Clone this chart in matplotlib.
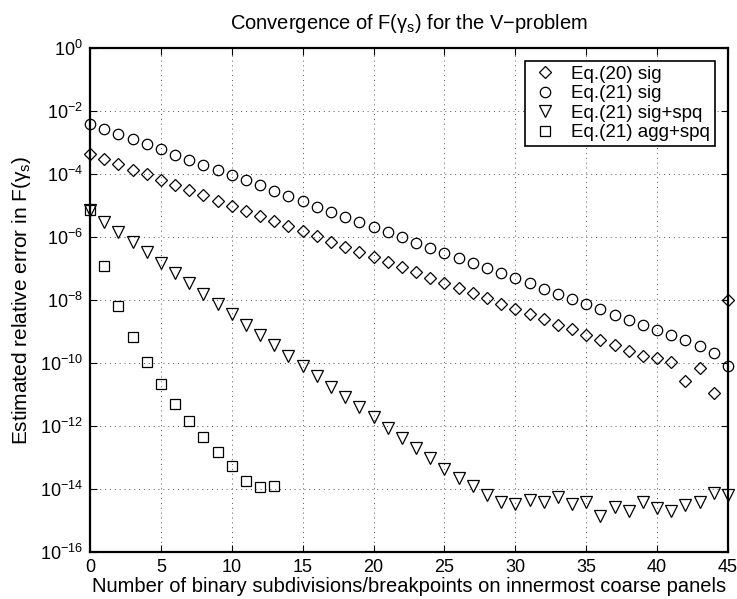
import numpy as np
import matplotlib
matplotlib.use("Agg")
import matplotlib.pyplot as plt
from matplotlib.ticker import FixedLocator, NullLocator

plt.rcParams['font.family'] = ['Liberation Sans', 'DejaVu Sans']
plt.rcParams['mathtext.fontset'] = 'custom'
plt.rcParams['mathtext.rm'] = 'Liberation Sans'
plt.rcParams['mathtext.it'] = 'Liberation Sans'
plt.rcParams['mathtext.default'] = 'regular'

# x positions: number of subdivisions
n_sig = list(range(0, 46))
n_agg = list(range(0, 14))

# log10 of estimated relative error
eq20_sig_log10 = [-3.37, -3.52, -3.69, -3.87, -4.01, -4.19, -4.35, -4.52, -4.68, -4.85,
                  -5.01, -5.17, -5.33, -5.49, -5.65, -5.81, -5.97, -6.16, -6.33, -6.48,
                  -6.65, -6.79, -6.96, -7.12, -7.29, -7.45, -7.62, -7.79, -7.95, -8.13,
                  -8.29, -8.44, -8.61, -8.78, -8.93, -9.10, -9.27, -9.43, -9.62, -9.78,
                  -9.85, -9.98, -10.57, -10.15, -10.96, -8.00]
eq21_sig_log10 = [-2.41, -2.57, -2.73, -2.89, -3.06, -3.22, -3.39, -3.55, -3.71, -3.87,
                  -4.04, -4.20, -4.35, -4.54, -4.70, -4.86, -5.04, -5.20, -5.35, -5.52,
                  -5.68, -5.85, -6.01, -6.18, -6.35, -6.50, -6.68, -6.84, -6.99, -7.15,
                  -7.31, -7.47, -7.65, -7.80, -7.97, -8.13, -8.30, -8.47, -8.63, -8.79,
                  -8.95, -9.11, -9.28, -9.46, -9.67, -10.08]
eq21_sigspq_log10 = [-5.14, -5.51, -5.85, -6.17, -6.49, -6.83, -7.15, -7.47, -7.80, -8.13,
                     -8.45, -8.78, -9.11, -9.43, -9.78, -10.10, -10.41, -10.75, -11.07, -11.40,
                     -11.71, -12.05, -12.39, -12.71, -13.03, -13.37, -13.66, -13.89, -14.19, -14.42,
                     -14.48, -14.36, -14.40, -14.26, -14.49, -14.42, -14.85, -14.58, -14.69, -14.40,
                     -14.59, -14.69, -14.52, -14.40, -14.14, -14.19]
eq21_aggspq_log10 = [-5.14, -6.91, -8.19, -9.16, -9.98, -10.67, -11.29, -11.84, -12.35, -12.84,
                     -13.27, -13.76, -13.95, -13.90]

labels = ['Eq.(20) sig', 'Eq.(21) sig', 'Eq.(21) sig+spq', 'Eq.(21) agg+spq']

fig = plt.figure(figsize=(7.37, 5.99), dpi=100)
ax = fig.add_axes([90/737, 47/599, 638/737, 504/599])

common = dict(linestyle='none', markerfacecolor='none', markeredgecolor='black',
              markeredgewidth=0.9, clip_on=False)
ax.plot(n_sig, 10.0**np.array(eq20_sig_log10), marker='D', markersize=6, label=labels[0], **common)
ax.plot(n_sig, 10.0**np.array(eq21_sig_log10), marker='o', markersize=7.5, label=labels[1], **common)
ax.plot(n_sig, 10.0**np.array(eq21_sigspq_log10), marker='v', markersize=8, label=labels[2], **common)
ax.plot(n_agg, 10.0**np.array(eq21_aggspq_log10), marker='s', markersize=6.5, label=labels[3], **common)

ax.set_yscale('log')
ax.set_xlim(0, 45)
ax.set_ylim(1e-16, 1e0)
ax.xaxis.set_major_locator(FixedLocator(list(range(0, 46, 5))))
ax.yaxis.set_major_locator(FixedLocator([10.0**k for k in range(-16, 1, 2)]))
ax.yaxis.set_minor_locator(NullLocator())
ax.tick_params(axis='both', which='major', direction='in', length=5, width=0.8,
               top=True, right=True, labelsize=13, pad=5)
for s in ax.spines.values():
    s.set_linewidth(1.6)
ax.grid(True, which='major', linestyle=(0, (1, 4)), color='#555555', linewidth=0.7)

ax.set_title('Convergence of F(γ$_s$) for the V−problem', fontsize=14.5, pad=14)
ax.set_xlabel('Number of binary subdivisions/breakpoints on innermost coarse panels', fontsize=14.5, labelpad=1)
ax.set_ylabel('Estimated relative error in F(γ$_s$)', fontsize=15, labelpad=5)

leg = ax.legend(loc='upper right', fontsize=13.5, frameon=True, fancybox=False,
                edgecolor='black', framealpha=1, borderaxespad=0.7,
                handlelength=1.6, handletextpad=0.6, labelspacing=0.12, borderpad=0.25)
leg.get_frame().set_linewidth(1.2)

fig.savefig('out.png', dpi=100)
